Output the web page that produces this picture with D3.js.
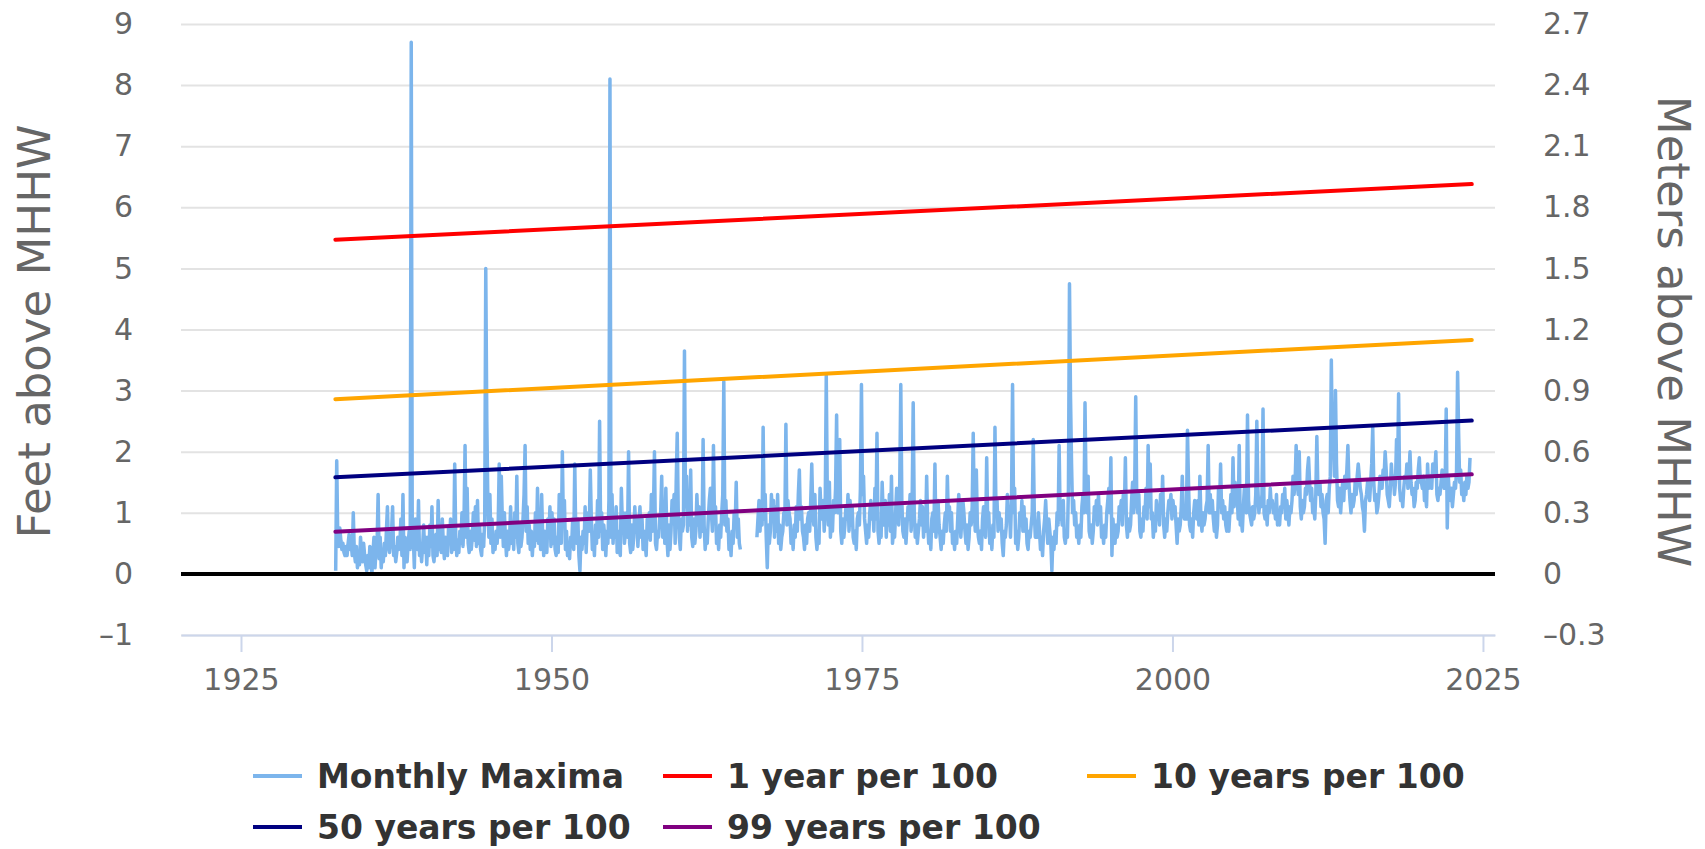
<!DOCTYPE html>
<html>
<head>
<meta charset="utf-8">
<script src="https://d3js.org/d3.v7.min.js"></script>
<style>
  body { margin: 0; background: #fff; }
  text { font-family: "DejaVu Sans", Verdana, sans-serif; }
  .gridlines line { stroke: #e3e3e3; stroke-width: 2; }
  .gridlines .domain { stroke: none; }
  .y.axis .domain { stroke: none; }
  .axis text { fill: #666; font-size: 30px; }
  .x.axis line, .x.axis .domain { stroke: #ccd6eb; stroke-width: 2; }
  .legend text { font-size: 33px; font-weight: bold; fill: #333; }
  .title { fill: #666; font-size: 45px; }
</style>
</head>
<body>
<svg id="chart" width="1705" height="849"></svg>
<script>
// monthly maxima in feet above MHHW, one row per year (Jan..Dec), first row = 1932
const firstYear = 1932;
const monthlyMaxima = [
  [null,null,null,null,null,null,null,0.05,1.85,0.6,0.45,0.75],
  [0.55,0.4,0.5,0.35,0.3,0.45,0.3,0.5,0.65,0.4,0.5,0.3],
  [1.0,0.35,0.2,0.45,0.1,0.3,0.15,0.6,0.35,0.2,0.5,0.3],
  [0.15,0.05,0.3,0.1,0.45,0.2,0.0,0.35,0.6,0.1,0.4,0.5],
  [1.3,0.25,0.6,0.1,0.4,0.2,0.5,0.3,0.7,1.1,0.45,0.35],
  [0.5,0.7,1.1,0.3,0.45,0.2,0.35,0.6,0.4,0.5,0.9,0.3],
  [1.3,0.1,0.6,0.35,0.2,0.5,0.7,0.4,8.7,0.45,0.6,0.1],
  [0.9,0.5,0.4,1.2,0.3,0.5,0.2,0.45,0.8,0.35,0.6,0.15],
  [0.6,0.3,0.8,0.45,1.1,0.3,0.2,0.5,0.65,0.3,1.2,0.4],
  [0.7,0.35,0.9,0.5,0.25,0.6,0.4,0.3,0.75,0.5,0.9,0.35],
  [0.8,0.4,1.8,0.6,0.3,0.55,0.35,0.7,0.5,1.0,0.45,0.9],
  [2.1,0.6,1.4,0.5,0.35,0.7,0.4,0.6,1.0,0.55,1.1,0.45],
  [1.2,0.5,0.8,0.4,0.3,0.65,0.45,0.9,5.0,2.5,1.2,0.6],
  [1.3,0.5,0.9,0.35,0.6,0.4,0.7,0.5,0.8,1.8,0.6,1.6],
  [0.9,0.45,1.0,0.6,0.3,0.7,0.4,0.55,1.1,0.5,0.85,0.4],
  [1.0,0.6,1.6,0.5,0.35,0.8,0.45,0.6,0.9,1.3,2.1,0.7],
  [1.1,0.5,0.8,0.4,0.7,0.3,0.6,0.45,1.0,0.55,1.4,0.5],
  [0.8,0.4,1.3,0.6,0.3,0.7,0.5,0.35,0.9,0.6,1.1,0.45],
  [1.0,0.5,0.9,0.4,0.3,0.6,0.35,1.3,0.7,0.5,2.0,0.8],
  [1.2,0.4,0.7,0.3,0.5,0.25,0.6,0.45,0.9,0.4,1.8,0.6],
  [0.5,0.9,0.3,0.05,0.6,0.4,0.7,0.5,1.1,0.35,0.8,1.0],
  [0.7,1.7,0.9,0.4,0.6,0.3,0.8,0.5,1.2,0.6,2.5,0.7],
  [1.0,0.4,0.8,0.6,0.3,0.7,0.5,1.2,8.1,0.6,1.3,0.5],
  [0.9,0.6,1.1,0.35,0.7,0.4,0.3,1.4,0.8,1.0,0.5,0.7],
  [1.0,0.6,2.0,0.5,0.35,0.8,0.4,0.6,1.1,0.7,0.9,0.45],
  [0.8,1.1,0.6,0.9,0.4,0.7,0.5,0.3,0.9,0.6,1.0,0.55],
  [1.3,0.7,1.0,2.0,0.5,0.4,0.7,0.6,0.9,1.0,1.6,0.6],
  [1.1,0.5,1.4,0.6,0.3,0.8,0.4,0.7,1.2,0.9,1.3,0.5],
  [1.5,2.3,1.0,0.6,0.4,0.9,0.7,0.8,3.65,1.1,1.6,0.7],
  [1.2,0.8,1.7,0.6,0.45,0.9,0.5,0.7,1.3,0.8,1.1,0.6],
  [1.0,0.7,2.2,0.8,0.4,0.6,0.5,0.9,1.2,1.4,1.0,0.7],
  [2.1,0.9,1.1,0.5,0.7,0.4,0.8,0.6,1.0,1.3,3.15,0.8],
  [1.2,0.7,0.9,0.4,0.6,0.3,0.7,0.5,1.0,0.8,1.5,0.6],
  [0.9,0.5,0.4,null,null,null,null,null,null,null,null,null],
  [null,null,null,null,null,null,0.6,0.9,1.2,0.7,1.1,0.8],
  [2.4,0.9,1.3,0.6,0.1,0.8,0.5,0.7,1.3,0.9,1.2,0.6],
  [1.1,0.7,1.3,0.5,0.8,0.4,0.6,0.7,1.0,0.9,2.45,0.8],
  [1.2,1.0,0.9,0.5,0.7,0.4,0.8,0.6,1.1,0.7,1.3,1.7],
  [0.9,1.1,0.7,0.6,0.4,0.8,0.5,0.9,1.0,0.7,1.2,1.8],
  [1.0,0.8,1.3,0.6,0.4,0.7,0.5,1.4,1.0,0.9,1.2,0.7],
  [1.1,3.25,1.3,0.8,1.5,0.6,0.9,0.7,1.2,1.0,1.4,2.6],
  [1.0,1.2,2.2,0.7,0.5,0.9,0.6,0.8,1.1,0.9,1.3,0.7],
  [1.2,0.8,1.1,0.6,0.5,0.7,0.4,0.9,1.0,0.8,1.4,3.1],
  [1.3,1.6,0.9,0.7,0.5,0.8,0.6,1.0,1.2,0.9,1.1,0.7],
  [1.4,0.9,2.3,0.7,0.5,0.8,0.6,1.5,1.0,0.8,1.2,0.6],
  [1.1,0.8,1.3,0.7,1.6,0.5,0.7,0.6,1.0,1.4,1.2,0.8],
  [1.5,3.1,1.2,0.7,0.6,0.9,0.5,0.8,1.1,0.9,1.3,0.7],
  [1.2,2.8,1.0,0.6,0.8,0.5,0.7,0.9,1.2,0.8,1.1,0.6],
  [1.0,0.7,1.6,0.8,0.5,0.7,0.4,0.9,1.0,0.7,1.8,0.6],
  [0.9,1.2,0.8,0.6,0.4,0.7,0.5,0.8,1.0,0.7,1.6,0.9],
  [1.1,0.7,1.0,0.5,0.6,0.4,0.7,0.5,0.9,1.3,1.0,0.6],
  [0.9,1.2,1.0,0.7,0.5,0.8,0.4,0.6,1.0,0.8,1.1,2.3],
  [1.0,0.7,1.7,0.8,0.6,0.5,0.7,0.4,0.9,1.1,0.8,0.6],
  [1.9,0.8,1.0,0.5,0.7,0.4,0.8,0.6,2.4,1.0,1.2,0.7],
  [1.0,0.8,0.9,0.5,0.3,0.7,0.6,0.8,1.3,0.9,1.1,0.6],
  [1.2,3.1,1.0,1.4,0.5,0.7,0.4,0.6,1.0,0.8,1.2,0.7],
  [1.1,0.7,0.9,0.5,0.4,0.7,0.6,0.8,1.0,2.2,1.0,0.6],
  [0.8,0.6,1.0,0.7,0.4,0.6,0.3,0.7,0.9,1.2,0.8,0.5],
  [0.9,0.7,0.5,0.05,0.6,0.4,0.7,0.5,1.0,0.8,2.1,0.9],
  [1.0,0.8,1.2,0.6,0.5,0.7,0.6,1.4,4.75,2.9,1.8,1.0],
  [1.2,0.8,1.0,0.6,0.7,0.5,0.8,0.6,1.1,1.3,1.0,2.8],
  [1.4,1.0,1.6,0.7,0.6,0.8,0.5,0.7,1.1,0.9,1.2,0.8],
  [1.3,0.9,1.1,0.6,0.7,0.5,0.8,0.6,1.0,1.2,1.4,1.0],
  [1.9,0.3,0.9,0.6,0.5,0.8,0.6,0.7,1.1,1.0,1.2,0.8],
  [1.3,1.0,1.9,0.8,0.6,0.9,0.7,0.8,1.2,1.5,1.0,1.4],
  [2.9,1.2,1.0,1.3,0.7,0.6,0.9,0.7,1.1,1.0,1.4,0.9],
  [2.1,1.1,1.8,0.9,1.0,0.6,0.8,0.7,1.2,1.0,1.1,0.8],
  [1.3,1.0,1.6,0.8,0.6,0.9,0.7,1.0,1.2,1.1,1.3,0.9],
  [1.2,1.0,1.1,0.8,0.5,0.9,0.7,0.8,1.1,1.6,1.0,0.9],
  [1.1,0.9,2.35,1.5,0.8,0.7,0.9,0.6,1.0,1.2,1.0,0.9],
  [1.2,0.8,1.6,0.9,0.7,1.0,0.8,0.9,1.1,1.2,2.1,1.0],
  [1.3,1.0,1.2,0.9,0.7,1.0,0.6,0.8,1.4,1.1,1.8,1.0],
  [1.2,0.9,1.1,0.8,0.7,1.0,0.7,1.0,1.3,1.0,1.9,1.1],
  [1.5,1.2,1.3,0.9,2.1,0.8,0.9,0.7,1.1,1.4,1.2,1.0],
  [2.6,1.2,1.0,0.9,0.8,1.1,0.9,1.0,1.3,2.5,1.4,1.0],
  [1.2,1.1,1.3,2.7,1.0,0.9,1.1,0.8,1.2,1.0,1.4,1.1],
  [1.2,1.0,1.1,0.9,1.3,0.8,0.9,0.8,1.1,1.0,1.3,1.1],
  [1.4,0.9,1.2,1.0,0.8,1.1,1.0,1.2,1.6,1.3,1.5,2.1],
  [1.6,1.3,2.0,1.1,0.9,1.2,1.0,1.1,1.4,1.3,1.7,1.9],
  [1.5,1.2,1.4,1.0,1.1,0.9,1.3,2.25,1.4,1.3,1.5,1.1],
  [1.3,1.0,0.9,0.5,1.2,1.3,1.0,1.4,1.6,3.5,2.0,2.2],
  [1.6,3.0,1.8,1.2,1.1,1.4,1.0,1.3,1.5,1.2,1.6,1.4],
  [1.7,2.1,1.5,1.2,1.0,1.3,1.1,1.2,1.5,1.3,1.6,1.8],
  [1.6,1.4,1.3,1.1,1.0,0.7,1.2,1.3,1.5,1.4,1.2,1.5],
  [1.8,2.4,1.5,1.2,1.3,1.0,1.1,1.3,1.6,1.5,1.4,1.7],
  [1.6,2.0,1.7,1.3,1.2,1.1,1.4,1.8,1.5,1.6,1.3,1.5],
  [2.2,1.6,2.95,1.4,1.2,1.3,1.1,1.4,1.6,1.5,1.8,1.4],
  [1.6,2.0,1.5,1.3,1.4,1.1,1.2,1.5,1.4,1.7,1.9,1.5],
  [1.5,1.4,1.6,1.2,1.3,1.1,1.8,1.4,1.5,1.6,1.4,1.8],
  [1.6,1.7,2.0,1.3,1.2,1.4,1.3,1.5,1.7,1.6,1.4,1.5],
  [2.7,0.75,1.6,1.3,1.2,1.4,1.1,1.3,1.5,1.4,1.7,3.3],
  [2.3,1.5,1.7,1.3,1.4,1.2,1.5,1.3,1.6,1.4,1.5,1.9]
];

// exceedance probability levels, start and end of the record
const trendYears = [1932.6, 2024.1];
const oneYear = [5.47, 6.38];
const tenYears = [2.86, 3.83];
const fiftyYears = [1.58, 2.51];
const ninetyNineYears = [0.69, 1.63];

const seriesNames = ['Monthly Maxima', '1 year per 100', '10 years per 100', '50 years per 100', '99 years per 100'];
const seriesColors = ['#7cb5ec', '#ff0000', '#ffa500', '#000080', '#800080'];

const xTicks = [1925, 1950, 1975, 2000, 2025];
const feetTicks = [-1, 0, 1, 2, 3, 4, 5, 6, 7, 8, 9];
const meterTicks = [-0.3, 0, 0.3, 0.6, 0.9, 1.2, 1.5, 1.8, 2.1, 2.4, 2.7];

const svg = d3.select('svg#chart');
const margins = {top: 24, right: 210, bottom: 214, left: 181};
const width = +svg.attr('width');
const height = +svg.attr('height');
const chartWidth = width - margins.left - margins.right;
const chartHeight = height - margins.top - margins.bottom;

const xScale = d3.scaleLinear().domain([1920.17, 2025.97]).range([margins.left, margins.left + chartWidth]);
const feetScale = d3.scaleLinear().domain([-1, 9]).range([margins.top + chartHeight, margins.top]);
const meterScale = d3.scaleLinear().domain([-0.3, 2.7]).range([margins.top + chartHeight, margins.top]);

const minus = s => s.replace('-', '\u2013');

// gridlines
svg.append('g').attr('class', 'y gridlines')
  .attr('transform', `translate(${margins.left},0)`)
  .call(d3.axisLeft(feetScale).tickValues(feetTicks).tickSize(-chartWidth).tickFormat(''));

// left axis
svg.append('g').attr('class', 'y axis')
  .attr('transform', `translate(${margins.left},0)`)
  .call(d3.axisLeft(feetScale).tickValues(feetTicks).tickSize(0).tickPadding(48)
    .tickFormat(d => minus(String(d))));

// right axis
svg.append('g').attr('class', 'y axis')
  .attr('transform', `translate(${margins.left + chartWidth},0)`)
  .call(d3.axisRight(meterScale).tickValues(meterTicks).tickSize(0).tickPadding(48)
    .tickFormat(d => d === 0 ? '0' : minus(d.toFixed(1))));

// bottom axis
svg.append('g').attr('class', 'x axis')
  .attr('transform', `translate(0,${margins.top + chartHeight})`)
  .call(d3.axisBottom(xScale).tickValues(xTicks).tickSize(17).tickSizeOuter(0).tickPadding(17)
    .tickFormat(d3.format('d')));

svg.selectAll('.y.axis .tick line').remove();

// axis titles
svg.append('text').attr('class', 'title')
  .attr('transform', `translate(34,${margins.top + chartHeight / 2 + 2}) rotate(-90)`)
  .attr('text-anchor', 'middle').attr('dominant-baseline', 'central')
  .text('Feet above MHHW');
svg.append('text').attr('class', 'title')
  .attr('transform', `translate(1673,${margins.top + chartHeight / 2 + 2}) rotate(90)`)
  .attr('text-anchor', 'middle').attr('dominant-baseline', 'central')
  .text('Meters above MHHW');

// monthly series
const points = [];
monthlyMaxima.forEach((row, i) => {
  row.forEach((v, m) => points.push({t: firstYear + i + (m + 0.5) / 12, v: v}));
});

const line = d3.line()
  .defined(d => d.v !== null)
  .x(d => xScale(d.t))
  .y(d => feetScale(d.v));

const plot = svg.append('g');

plot.append('path')
  .datum(points)
  .attr('d', line)
  .attr('fill', 'none')
  .attr('stroke', seriesColors[0])
  .attr('stroke-width', 3.5)
  .attr('stroke-linejoin', 'round');

// zero line
plot.append('line')
  .attr('x1', margins.left).attr('x2', margins.left + chartWidth)
  .attr('y1', feetScale(0)).attr('y2', feetScale(0))
  .attr('stroke', '#000').attr('stroke-width', 4);

const levels = [oneYear, tenYears, fiftyYears, ninetyNineYears];
levels.forEach((vals, i) => {
  const pts = trendYears.map((t, j) => ({t: t, v: vals[j]}));
  plot.append('path')
    .datum(pts)
    .attr('d', line)
    .attr('fill', 'none')
    .attr('stroke', seriesColors[i + 1])
    .attr('stroke-width', 4)
    .attr('stroke-linecap', 'round');
});

// legend
const legendCols = [253, 663, 1087];
const legendRows = [776, 827];
const legend = svg.append('g').attr('class', 'legend');
seriesNames.forEach((name, i) => {
  const cx = legendCols[i % 3];
  const cy = legendRows[Math.floor(i / 3)];
  legend.append('line')
    .attr('x1', cx).attr('x2', cx + 49)
    .attr('y1', cy).attr('y2', cy)
    .attr('stroke', seriesColors[i]).attr('stroke-width', 4);
  legend.append('text')
    .attr('x', cx + 64).attr('y', cy)
    .attr('dominant-baseline', 'central')
    .text(name);
});
</script>
</body>
</html>
